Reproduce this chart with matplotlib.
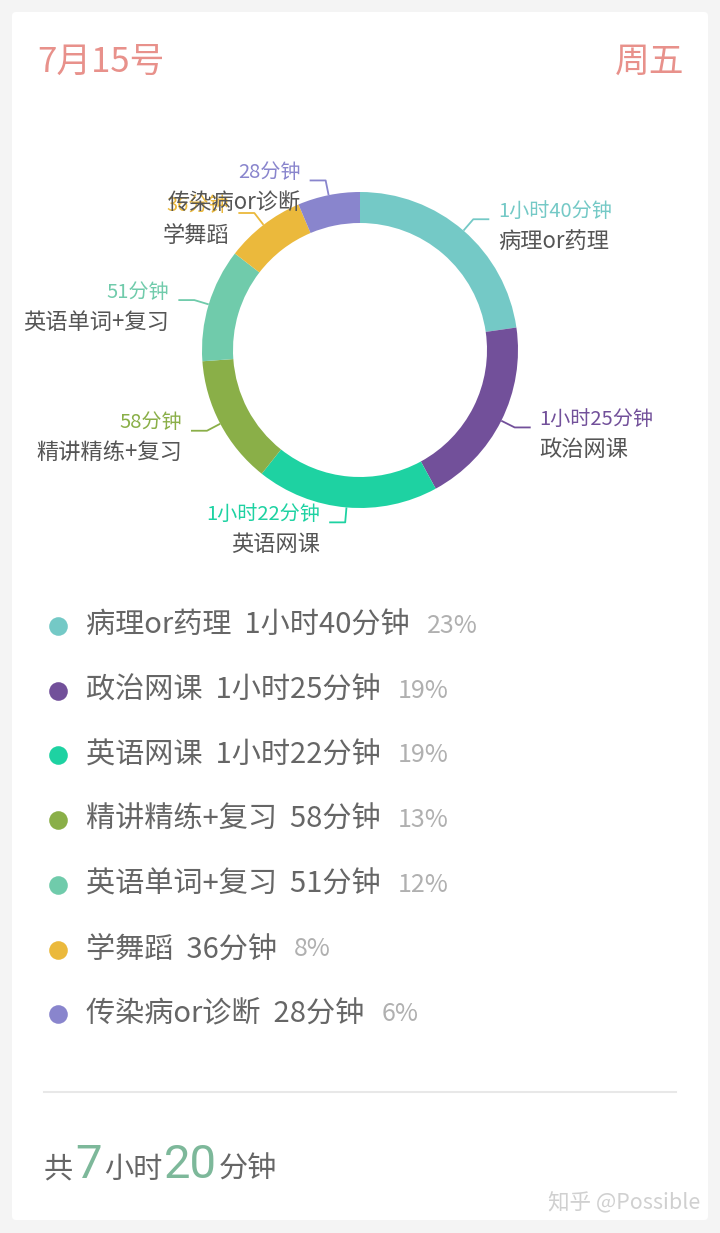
import numpy as np
import matplotlib
matplotlib.use("Agg")
import matplotlib.pyplot as plt
from matplotlib.patches import FancyBboxPatch

plt.rcParams['font.family'] = ['Noto Sans CJK SC', 'DejaVu Sans']

W, H = 720, 1233

# data
names = ["病理or药理", "政治网课", "英语网课", "精讲精练+复习", "英语单词+复习", "学舞蹈", "传染病or诊断"]
minutes = [100, 85, 82, 58, 51, 36, 28]
colors = ["#74c9c6", "#72509a", "#1ed2a2", "#8aaf48", "#70cbab", "#ebb93c", "#8985cd"]
date_text = "7月15号"
weekday_text = "周五"
watermark = "知乎 @Possible"


def fmt(m):
    h, mm = divmod(m, 60)
    return f"{h}小时{mm}分钟" if h else f"{mm}分钟"


def Y(y):
    # image pixel row -> data y
    return H - y


total = sum(minutes)
pcts = [round(m / total * 100) for m in minutes]

fig = plt.figure(figsize=(W / 100, H / 100), dpi=100)
fig.patch.set_facecolor("#f4f4f4")
ax = fig.add_axes([0, 0, 1, 1])

# white card
ax.add_patch(FancyBboxPatch((12, Y(1220)), 696, 1208,
                            boxstyle="round,pad=0,rounding_size=4",
                            fc="white", ec="none", zorder=0))

# donut
cx, cy, R, ring = 360, 350, 158, 31
ax.pie(minutes, colors=colors, startangle=90, counterclock=False,
       radius=R, center=(cx, Y(cy)),
       wedgeprops=dict(width=ring, linewidth=0))
ax.set_xlim(0, W)
ax.set_ylim(0, H)
ax.axis('off')

# leader lines + labels
cum = np.cumsum([0] + minutes)
for i, (name, m) in enumerate(zip(names, minutes)):
    a = (cum[i] + cum[i + 1]) / 2 / total * 2 * np.pi
    s, c = np.sin(a), np.cos(a)
    sx, sy = cx + R * s, cy - R * c
    ex, ey = cx + (R + 15) * s, cy - (R + 15) * c
    side = 1 if s >= 0 else -1
    hx = ex + side * 16
    ax.plot([sx, ex, hx], [Y(sy), Y(ey), Y(ey)], color=colors[i], lw=1.3,
            solid_capstyle='butt')
    tx = hx + side * 9
    ha = 'left' if side > 0 else 'right'
    ax.text(tx, Y(ey - 8), fmt(m), color=colors[i], fontsize=14.5, ha=ha, va='center')
    ax.text(tx, Y(ey + 22), name, color="#555555", fontsize=16, ha=ha, va='center')

# header
ax.text(37, Y(62), date_text, fontsize=25, color="#e8918b", va='center')
ax.text(684, Y(62), weekday_text, fontsize=25, color="#e8918b", va='center', ha='right')

# legend
leg_y0, leg_dy = 626, 64.7
leg_texts = []
for i, (name, m) in enumerate(zip(names, minutes)):
    y = leg_y0 + i * leg_dy
    ax.scatter([58], [Y(y)], s=180, color=colors[i], linewidths=0, zorder=3)
    t = ax.text(86, Y(y), f"{name}  {fmt(m)}", fontsize=21, color="#666666", va='center')
    leg_texts.append((t, y))

fig.canvas.draw()
for (t, y), p in zip(leg_texts, pcts):
    bb = t.get_window_extent()
    ax.text(bb.x1 + 17, Y(y), f"{p}%", fontsize=18, color="#b0b0b0", va='center')

# separator
ax.plot([44, 676], [Y(1092), Y(1092)], color="#e8e8e8", lw=1.5)

# total
h, mm = divmod(total, 60)
pieces = [("共", False), (str(h), True), ("小时", False), (str(mm), True), ("分钟", False)]
x = 44
base = Y(1178)
for txt, big in pieces:
    if big:
        t = ax.text(x, base, txt, fontsize=34, color="#7db89a", va='baseline',
                    family=['Roboto', 'DejaVu Sans'])
    else:
        t = ax.text(x, base, txt, fontsize=21, color="#666666", va='baseline')
    fig.canvas.draw()
    x = t.get_window_extent().x1 + 2

# watermark
ax.text(700, Y(1203), watermark, fontsize=15.5, color="#d0d0d0", ha='right', va='center')

fig.savefig("out.png", dpi=100, facecolor=fig.get_facecolor())
